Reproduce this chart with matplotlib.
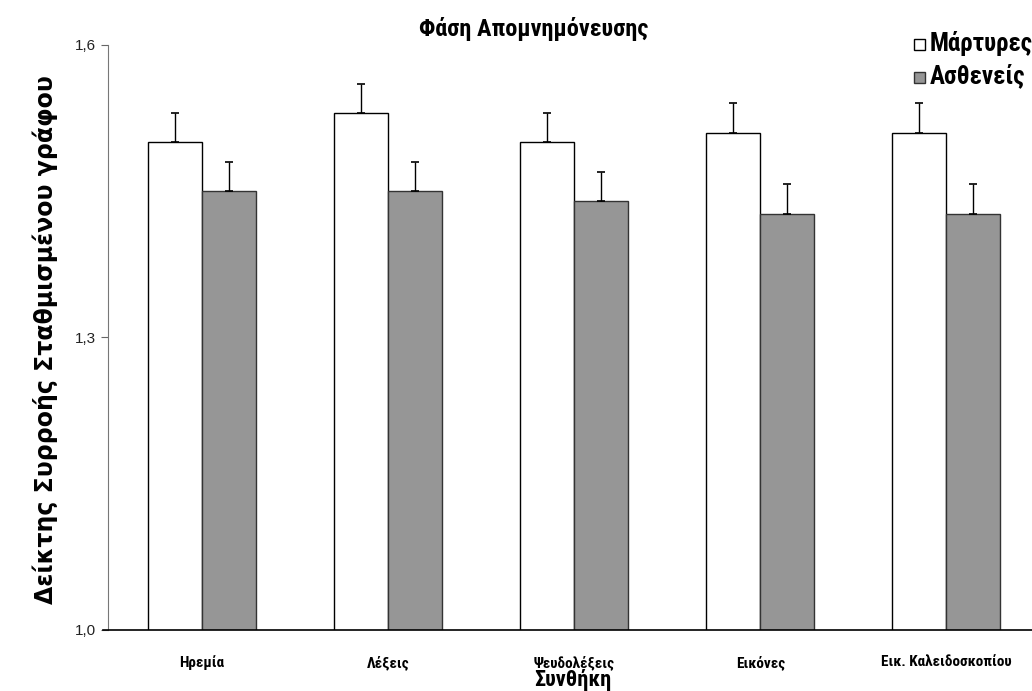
import numpy as np
import matplotlib
matplotlib.use("Agg")
import matplotlib.pyplot as plt
from matplotlib.ticker import FuncFormatter
from matplotlib.patches import Rectangle

# mean flow index per condition, upper error (SE)
conditions = ["Ηρεμία", "Λέξεις", "Ψευδολέξεις", "Εικόνες", "Εικ. Καλειδοσκοπίου"]
controls = [1.50, 1.53, 1.50, 1.51, 1.51]
controls_err = [0.03, 0.03, 0.03, 0.03, 0.03]
patients = [1.45, 1.45, 1.44, 1.427, 1.427]
patients_err = [0.03, 0.03, 0.03, 0.03, 0.03]
yticks = [1.0, 1.3, 1.6]

cond = ["Roboto Condensed", "DejaVu Sans"]
plt.rcParams["font.family"] = cond

fig = plt.figure(figsize=(10.32, 6.91), dpi=100)
ax = fig.add_axes([0.1047, 0.0883, 0.8953, 0.8466])

x = np.arange(len(conditions))
w = 0.29
ax.bar(x - w / 2, controls, w, color="white", edgecolor="black", linewidth=1.0, zorder=2)
ax.bar(x + w / 2, patients, w, color="#969696", edgecolor="#333333", linewidth=1.0, zorder=2)

# upper-only error bars
ax.errorbar(x - w / 2, controls, yerr=[np.zeros(5), controls_err], fmt="none",
            ecolor="black", elinewidth=1.0, capsize=3, capthick=1.2, zorder=3)
ax.errorbar(x + w / 2, patients, yerr=[np.zeros(5), patients_err], fmt="none",
            ecolor="black", elinewidth=1.0, capsize=3, capthick=1.2, zorder=3)

ax.set_ylim(1.0, 1.6)
ax.set_xlim(-0.505, 4.46)
ax.set_yticks(yticks)
ax.yaxis.set_major_formatter(FuncFormatter(lambda v, p: f"{v:.1f}".replace(".", ",")))
ax.tick_params(axis="y", direction="out", length=5, color="#666666", labelsize=11, pad=4)
for lab in ax.get_yticklabels():
    lab.set_family("Liberation Sans")
    lab.set_color("#222222")
ax.set_xticks(x)
ax.set_xticklabels(conditions, fontsize=11, fontweight="bold")
ax.tick_params(axis="x", length=0, pad=18)

for s in ["top", "right"]:
    ax.spines[s].set_visible(False)
ax.spines["left"].set_color("#777777")
ax.spines["bottom"].set_color("black")
ax.spines["bottom"].set_linewidth(1.2)
ax.spines["bottom"].set_bounds(-0.53, 4.46)

fig.text(573 / 1032, 1 - 680 / 691, "Συνθήκη", ha="center", va="center",
         fontsize=16, fontweight="bold")
fig.text(45 / 1032, 1 - 340 / 691, "Δείκτης Συρροής Σταθμισμένου γράφου", ha="center",
         va="center", rotation=90, fontsize=17, fontweight="bold", family="DejaVu Sans")
fig.text(534 / 1032, 1 - 29 / 691, "Φάση Απομνημόνευσης", ha="center", va="center",
         fontsize=17.5, fontweight="bold")

# legend boxes
for yy, fc, ec, lab in [(43, "white", "black", "Μάρτυρες"),
                        (76, "#969696", "#333333", "Ασθενείς")]:
    fy = 1 - yy / 691
    fig.patches.append(Rectangle((914 / 1032, fy - 0.0100), 11 / 1032, 0.0165,
                                 transform=fig.transFigure, facecolor=fc, edgecolor=ec,
                                 linewidth=1.0))
    fig.text(930 / 1032, fy, lab, ha="left", va="center", fontsize=18, fontweight="bold")

fig.savefig("out.png", dpi=100)
